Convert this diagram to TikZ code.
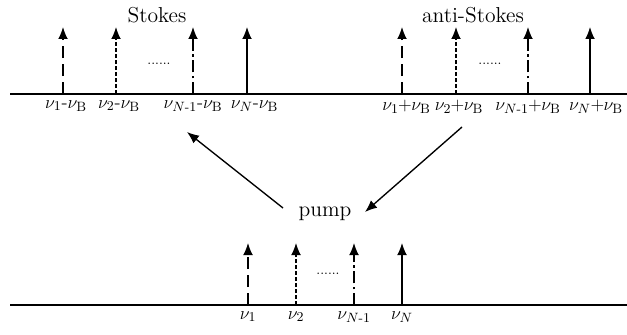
\documentclass[tikz,border=0pt]{standalone}
\usepackage{amsmath}
\usetikzlibrary{arrows.meta}

\newcommand{\pl}{\mkern-0.5mu{+}\mkern-0.5mu}
\newcommand{\mi}{\text{-}}

\begin{document}
\begin{tikzpicture}[x=0.6667pt, y=-0.6667pt,
  axis/.style={line width=1pt},
  line/.style={-{Latex[length=8pt, width=6.5pt]}, line width=0.9pt},
  ldash/.style={dash pattern=on 8pt off 4pt},
  ldot/.style={dash pattern=on 2.5pt off 1.5pt},
  ldashdot/.style={dash pattern=on 8pt off 2.5pt on 1.5pt off 2.5pt},
  freq/.style={below, inner sep=4pt, font=\fontsize{12.4}{15}\selectfont},
  title/.style={font=\Large},
  dots/.style={font=\small}
]
\useasboundingbox (0,0) rectangle (627,335);

%% Axes
\coordinate (topL) at (10,94);
\coordinate (topR) at (627,94);
\coordinate (botL) at (10,305);
\coordinate (botR) at (627,305);
\draw[axis] (topL) -- (topR);
\draw[axis] (botL) -- (botR);

%% Stokes lines
\coordinate (s1) at (63,94);   \coordinate (s1t) at (63,27);
\coordinate (s2) at (116,94);  \coordinate (s2t) at (116,27);
\coordinate (s3) at (193,94);  \coordinate (s3t) at (193,27);
\coordinate (s4) at (247,94);  \coordinate (s4t) at (247,27);
\draw[line, ldash] (s1) -- (s1t);
\draw[line, ldot] (s2) -- (s2t);
\draw[line, ldashdot] (s3) -- (s3t);
\draw[line] (s4) -- (s4t);
\node[freq] (s1lab) at ([xshift=2]s1) {$\nu_1\mi\nu_\mathrm{B}$};
\node[freq] (s2lab) at ([xshift=2]s2) {$\nu_2\mi\nu_\mathrm{B}$};
\node[freq] (s3lab) at (s3) {$\nu_{N\mi1}\mi\nu_\mathrm{B}$};
\node[freq] (s4lab) at ([xshift=5]s4) {$\nu_N\mi\nu_\mathrm{B}$};
\node[dots] (sdots) at (159,64) {......};
\node[title] (stokes) at (157,15) {Stokes};

%% anti-Stokes lines
\coordinate (a1) at (402,94);  \coordinate (a1t) at (402,27);
\coordinate (a2) at (456,94);  \coordinate (a2t) at (456,27);
\coordinate (a3) at (528,94);  \coordinate (a3t) at (528,27);
\coordinate (a4) at (590,94);  \coordinate (a4t) at (590,27);
\draw[line, ldash] (a1) -- (a1t);
\draw[line, ldot] (a2) -- (a2t);
\draw[line, ldashdot] (a3) -- (a3t);
\draw[line] (a4) -- (a4t);
\node[freq] (a1lab) at ([xshift=3]a1) {$\nu_1\pl\nu_\mathrm{B}$};
\node[freq] (a2lab) at ([xshift=2]a2) {$\nu_2\pl\nu_\mathrm{B}$};
\node[freq] (a3lab) at (a3) {$\nu_{N\mi1}\pl\nu_\mathrm{B}$};
\node[freq] (a4lab) at ([xshift=4]a4) {$\nu_N\pl\nu_\mathrm{B}$};
\node[dots] (adots) at (490,64) {......};
\node[title] (anti) at (473,15) {anti-Stokes};

%% pump lines
\coordinate (p1) at (248,305); \coordinate (p1t) at (248,243);
\coordinate (p2) at (296,305); \coordinate (p2t) at (296,243);
\coordinate (p3) at (354,305); \coordinate (p3t) at (354,243);
\coordinate (p4) at (402,305); \coordinate (p4t) at (402,243);
\draw[line, ldash] (p1) -- (p1t);
\draw[line, ldot] (p2) -- (p2t);
\draw[line, ldashdot] (p3) -- (p3t);
\draw[line] (p4) -- (p4t);
\node[freq] (p1lab) at (p1) {$\nu_1$};
\node[freq] (p2lab) at (p2) {$\nu_2$};
\node[freq] (p3lab) at (p3) {$\nu_{N\mi1}$};
\node[freq] (p4lab) at (p4) {$\nu_N$};
\node[dots] (pdots) at (328,274) {......};
\node[title] (pump) at (325,214) {pump};

%% Conversion arrows
\coordinate (toS0) at (283,208);
\coordinate (toS1) at (187,132);
\coordinate (toP0) at (462,127);
\coordinate (toP1) at (365,212);
\draw[line] (toS0) -- (toS1);
\draw[line] (toP0) -- (toP1);

\end{tikzpicture}
\end{document}
